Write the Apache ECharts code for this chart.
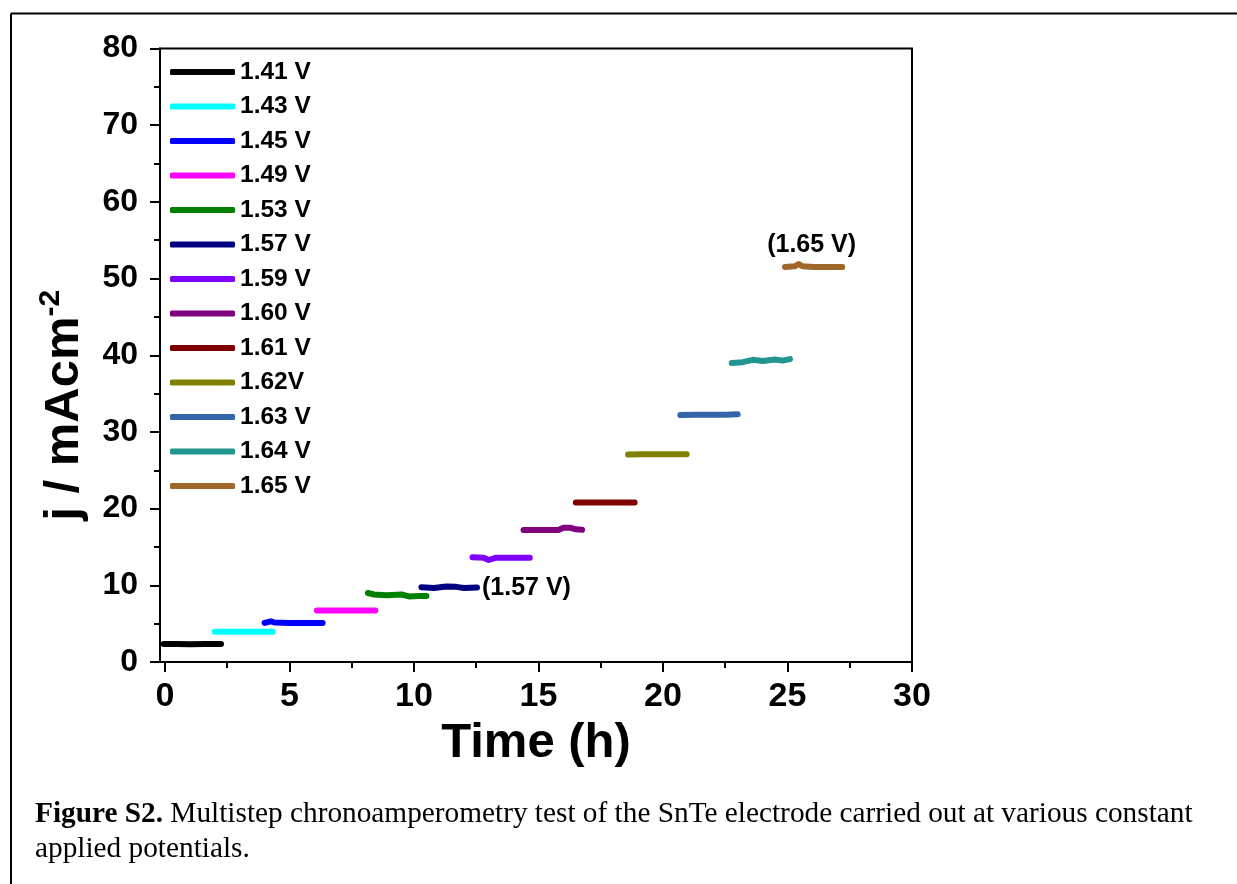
<!DOCTYPE html>
<html><head><meta charset="utf-8">
<script src="https://cdn.jsdelivr.net/npm/echarts@6/dist/echarts.min.js"></script>
<style>html,body{margin:0;padding:0;background:#fff}#c{width:1237px;height:884px}</style>
</head><body><div id="c"></div><script>
// ---- data ----
const seriesNames = ['1.41 V','1.43 V','1.45 V','1.49 V','1.53 V','1.57 V','1.59 V','1.60 V','1.61 V','1.62V','1.63 V','1.64 V','1.65 V'];
const seriesColors = ['#000000','#00ffff','#0000ff','#ff00ff','#008000','#000080','#8000ff','#800080','#800000','#808000','#3465a8','#20968f','#a0672a'];
// [time (h), j (mA cm^-2)]
const d141 = [[-0.05,2.35],[0.5,2.35],[1.0,2.3],[1.6,2.35],[2.25,2.35]];
const d143 = [[2.0,3.95],[2.6,3.95],[3.2,3.95],[3.8,3.95],[4.33,3.95]];
const d145 = [[4.0,5.1],[4.25,5.3],[4.4,5.15],[5.0,5.1],[5.7,5.1],[6.33,5.1]];
const d149 = [[6.1,6.7],[6.7,6.7],[7.3,6.7],[7.9,6.7],[8.45,6.7]];
const d153 = [[8.15,9.0],[8.4,8.8],[8.9,8.7],[9.5,8.8],[9.8,8.55],[10.2,8.6],[10.5,8.6]];
const d157 = [[10.3,9.75],[10.8,9.65],[11.3,9.85],[11.7,9.8],[12.0,9.65],[12.53,9.7]];
const d159 = [[12.35,13.65],[12.8,13.6],[13.0,13.3],[13.3,13.6],[14.0,13.6],[14.65,13.6]];
const d160 = [[14.4,17.2],[15.0,17.2],[15.8,17.2],[16.0,17.5],[16.3,17.5],[16.5,17.3],[16.75,17.25]];
const d161 = [[16.5,20.8],[17.1,20.8],[17.7,20.8],[18.3,20.8],[18.86,20.8]];
const d162 = [[18.6,27.05],[19.2,27.1],[19.8,27.1],[20.4,27.1],[20.95,27.1]];
const d163 = [[20.7,32.2],[21.3,32.25],[21.9,32.25],[22.5,32.25],[23.0,32.3]];
const d164 = [[22.76,39.0],[23.2,39.1],[23.6,39.4],[24.0,39.25],[24.5,39.45],[24.8,39.3],[25.1,39.5]];
const d165 = [[24.9,51.5],[25.3,51.6],[25.45,51.9],[25.6,51.6],[26.05,51.5],[26.6,51.5],[27.2,51.5]];
const seriesData = [d141,d143,d145,d149,d153,d157,d159,d160,d161,d162,d163,d164,d165];
const xTickValues = [0,5,10,15,20,25,30];
const xMinorTickValues = [2.5,7.5,12.5,17.5,22.5,27.5];
const annotations = [{series:'1.57 V', text:'(1.57 V)'},{series:'1.65 V', text:'(1.65 V)'}];
const captionBold = 'Figure S2.';
const captionLine1 = ' Multistep chronoamperometry test of the SnTe electrode carried out at various constant';
const captionLine2 = 'applied potentials.';

// ---- chart ----
const FONT = "'Liberation Sans', Arial, sans-serif";
const SERIF = "'Liberation Serif','Times New Roman',serif";
const chart = echarts.init(document.getElementById('c'), null, {renderer:'canvas'});
const series = seriesNames.map((name, i) => {
  const s = {
    name, type:'line', data: seriesData[i], showSymbol:false, symbol:'none',
    color: seriesColors[i], xAxisIndex:0, yAxisIndex:0,
    lineStyle:{width:6, cap:'round', join:'round', color: seriesColors[i]},
    emphasis:{disabled:true}, silent:true, z:3
  };
  const ann = annotations.find(a => a.series === name);
  if (ann && name === '1.57 V') {
    s.endLabel = {show:true, formatter: ann.text, distance:5, color:'#000',
      fontFamily:FONT, fontWeight:'bold', fontSize:25};
  } else if (ann) {
    const d = seriesData[i];
    const mid = (d[0][0] + d[d.length-1][0]) / 2;
    let best = d[0];
    d.forEach(p => { if (Math.abs(p[0]-mid) < Math.abs(best[0]-mid)) best = p; });
    s.markPoint = {symbol:'circle', symbolSize:0, silent:true, animation:false,
      data:[{coord:[best[0], d[0][1]], value: ann.text}],
      label:{show:true, position:'inside', offset:[-2,-22], formatter: ann.text, color:'#000',
        fontFamily:FONT, fontWeight:'bold', fontSize:25}};
  }
  return s;
});

const option = {
  animation:false,
  backgroundColor:'#fff',
  title:{
    left:30, top:792, padding:5,
    text:'{b|' + captionBold + '}{n|' + captionLine1 + '}\n{n|' + captionLine2 + '}',
    textStyle:{rich:{
      b:{fontFamily:SERIF, fontWeight:'bold', fontSize:29.3, lineHeight:35, color:'#000'},
      n:{fontFamily:SERIF, fontWeight:'normal', fontSize:29.3, lineHeight:35, color:'#000'}
    }}
  },
  graphic:[
    {type:'line', shape:{x1:11, y1:13.5, x2:1237, y2:13.5}, style:{stroke:'#000', lineWidth:2}, silent:true},
    {type:'line', shape:{x1:11, y1:13.5, x2:11, y2:884}, style:{stroke:'#000', lineWidth:2}, silent:true}
  ],
  legend:{
    orient:'vertical', left:165, top:54.5, itemWidth:65, itemHeight:6, itemGap:9.5,
    icon:'roundRect', selectedMode:false,
    textStyle:{fontFamily:FONT, fontWeight:'bold', fontSize:24.5, lineHeight:24, color:'#000'},
    data: seriesNames
  },
  grid:{left:160, right:325, top:48.5, bottom:222, show:true, borderColor:'#000', borderWidth:2, containLabel:false},
  xAxis:[{
    type:'value', min:-0.2, max:30,
    name:'Time (h)', nameLocation:'middle', nameGap:56,
    nameTextStyle:{fontFamily:FONT, fontWeight:'bold', fontSize:49, color:'#000'},
    axisLine:{show:true, onZero:false, lineStyle:{color:'#000', width:2}},
    axisTick:{show:true, inside:false, length:10, customValues:xTickValues, lineStyle:{color:'#000', width:2}},
    axisLabel:{show:true, customValues:xTickValues, margin:18, fontFamily:FONT, fontWeight:'bold', fontSize:34, color:'#000'},
    splitLine:{show:false}
  },{
    type:'value', min:-0.2, max:30, position:'bottom',
    axisLine:{show:false, onZero:false},
    axisTick:{show:true, inside:false, length:6, customValues:xMinorTickValues, lineStyle:{color:'#000', width:2}},
    axisLabel:{show:false, customValues:xMinorTickValues},
    splitLine:{show:false}
  }],
  yAxis:{
    type:'value', min:0, max:80, interval:10,
    name:'{a|j / mAcm}{s|-2}', nameLocation:'middle', nameRotate:90, nameGap:68,
    nameTextStyle:{padding:[0,100,0,0], rich:{
      a:{fontFamily:FONT, fontWeight:'bold', fontSize:49, color:'#000', lineHeight:56},
      s:{fontFamily:FONT, fontWeight:'bold', fontSize:30, color:'#000', verticalAlign:'top', lineHeight:56}
    }},
    axisLine:{show:true, onZero:false, lineStyle:{color:'#000', width:2}},
    axisTick:{show:true, inside:false, length:10, lineStyle:{color:'#000', width:2}},
    minorTick:{show:true, splitNumber:2, length:6, lineStyle:{color:'#000', width:2}},
    axisLabel:{margin:22, fontFamily:FONT, fontWeight:'bold', fontSize:32, color:'#000'},
    splitLine:{show:false}
  },
  series
};
chart.setOption(option);
</script></body></html>
